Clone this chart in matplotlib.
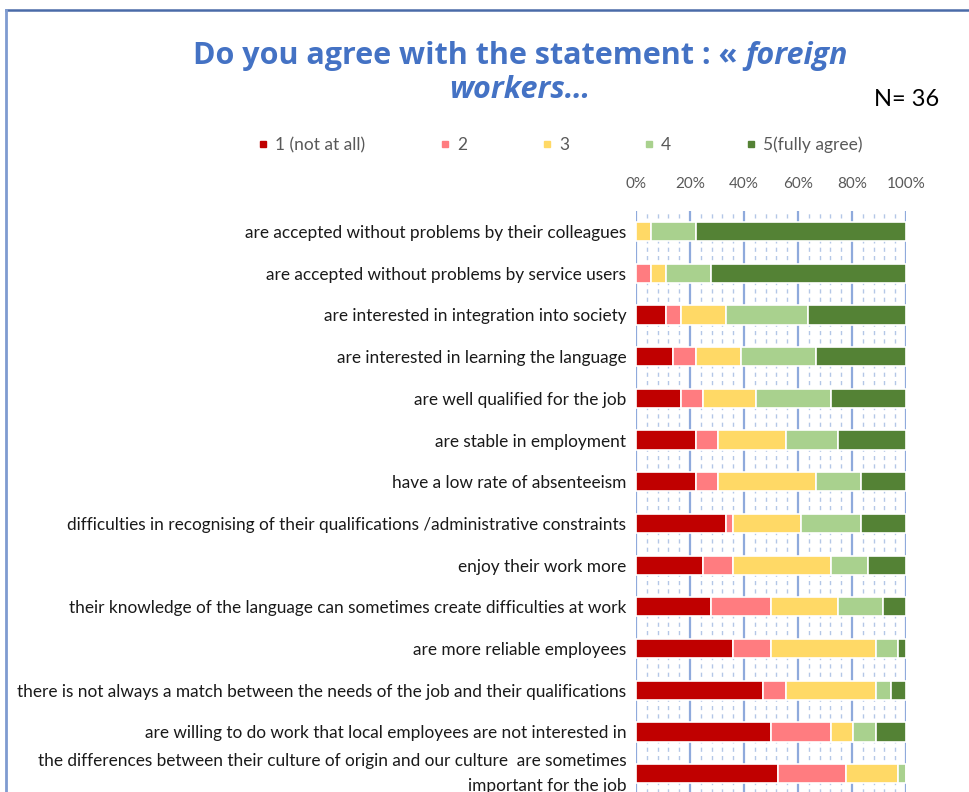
import matplotlib
matplotlib.use("Agg")
import matplotlib.pyplot as plt
from matplotlib.lines import Line2D
import numpy as np

# Survey items (top to bottom) and response counts per score 1..5
statements = [
    "are accepted without problems by their colleagues",
    "are accepted without problems by service users",
    "are interested in integration into society",
    "are interested in learning the language",
    "are well qualified for the job",
    "are stable in employment",
    "have a low rate of absenteeism",
    "difficulties in recognising of their qualifications /administrative constraints",
    "enjoy their work more",
    "their knowledge of the language can sometimes create difficulties at work",
    "are more reliable employees",
    "there is not always a match between the needs of the job and their qualifications",
    "are willing to do work that local employees are not interested in",
    "the differences between their culture of origin and our culture  are sometimes\nimportant for the job",
]
score_labels = ["1 (not at all)", "2", "3", "4", "5(fully agree)"]
score_1 = [0, 0, 4, 5, 6, 8, 8, 12, 9, 10, 13, 17, 18, 19]
score_2 = [0, 2, 2, 3, 3, 3, 3, 1, 4, 8, 5, 3, 8, 9]
score_3 = [2, 2, 6, 6, 7, 9, 13, 9, 13, 9, 14, 12, 3, 7]
score_4 = [6, 6, 11, 10, 10, 7, 6, 8, 5, 6, 3, 2, 3, 1]
score_5 = [28, 26, 13, 12, 10, 9, 6, 6, 5, 3, 1, 2, 4, 0]
n_respondents = 36
x_ticks = [0, 0.2, 0.4, 0.6, 0.8, 1.0]
x_tick_labels = ["0%", "20%", "40%", "60%", "80%", "100%"]

colors = ["#C00000", "#FF7C80", "#FFD966", "#A9D18E", "#548235"]

W, H = 970, 792
fig = plt.figure(figsize=(W / 100, H / 100), dpi=100)
fig.patch.set_facecolor("white")

# plot area in pixel units -> figure fractions
row_h = 41.7
top_px = 210.7
left_px, right_px = 636, 906
bottom_px = top_px + row_h * len(statements)
ax = fig.add_axes([left_px / W, 1 - bottom_px / H,
                   (right_px - left_px) / W, (bottom_px - top_px) / H])

series = [score_1, score_2, score_3, score_4, score_5]
y = np.arange(len(statements))
left = np.zeros(len(statements))
for vals, col, lab in zip(series, colors, score_labels):
    share = np.array(vals) / n_respondents
    ax.barh(y, share, left=left, height=0.46, color=col, edgecolor="white",
            linewidth=1.2, label=lab, zorder=3)
    left += share

ax.set_xlim(0, 1)
ax.set_ylim(len(statements) - 0.5, -0.5)
for s in ax.spines.values():
    s.set_visible(False)

# gridlines: solid majors, dashed minors every 4%
ax.set_xticks(x_ticks)
ax.set_xticks(np.arange(0, 1.0001, 0.04), minor=True)
ax.grid(axis="x", which="major", color="#8FAADC", linewidth=1.6, zorder=1)
ax.grid(axis="x", which="minor", color="#B4C7E7", linewidth=1.0,
        linestyle=(0, (3, 3)), zorder=1)
ax.xaxis.tick_top()
ax.set_xticklabels(x_tick_labels, fontsize=11, color="#595959", family="Lato")
ax.tick_params(axis="x", which="both", length=0, pad=14)

ax.set_yticks(y)
ax.set_yticklabels(statements, fontsize=12.4, color="#1a1a1a", family="Lato",
                   linespacing=1.72)
ax.tick_params(axis="y", length=0, pad=7)
# the two-line label is centred on its bar
ax.get_yticklabels()[-1].set_verticalalignment("center")

# legend
handles = [Line2D([0], [0], marker="s", linestyle="none", markersize=5,
                  markerfacecolor=c, markeredgecolor=c) for c in colors]
fig.legend(handles, score_labels, loc="center", ncol=5,
           bbox_to_anchor=(560 / W, 1 - 145 / H), frameon=False,
           prop={"family": "Lato", "size": 12.5}, labelcolor="#595959",
           handlelength=0.6, handletextpad=0.4, columnspacing=4.3)

# title, two parts on the first line
renderer = fig.canvas.get_renderer()
tfont = dict(family="Open Sans", weight="bold", size=22, color="#4472C4")
t1 = fig.text(0, 1 - 64 / H, "Do you agree with the statement : « ", ha="left",
              va="baseline", **tfont)
t2 = fig.text(0, 1 - 64 / H, "foreign", ha="left", va="baseline",
              style="italic", **tfont)
w1 = t1.get_window_extent(renderer).width
w2 = t2.get_window_extent(renderer).width
x0 = 520 - (w1 + w2) / 2
t1.set_x(x0 / W)
t2.set_x((x0 + w1) / W)
fig.text(520 / W, 1 - 98 / H, "workers…", ha="center", va="baseline",
         style="italic", **tfont)

fig.text(874 / W, 1 - 106 / H, "N= 36", ha="left", va="baseline",
         family="Lato", fontsize=17, color="black")

# frame lines
fig.add_artist(Line2D([6 / W, 1], [1 - 9.5 / H, 1 - 9.5 / H], color="#4A6BA8",
                      linewidth=1.8, transform=fig.transFigure))
fig.add_artist(Line2D([6.5 / W, 6.5 / W], [0, 1 - 9.5 / H], color="#7F9BD0",
                      linewidth=2.0, transform=fig.transFigure))

fig.savefig("out.png", dpi=100)
